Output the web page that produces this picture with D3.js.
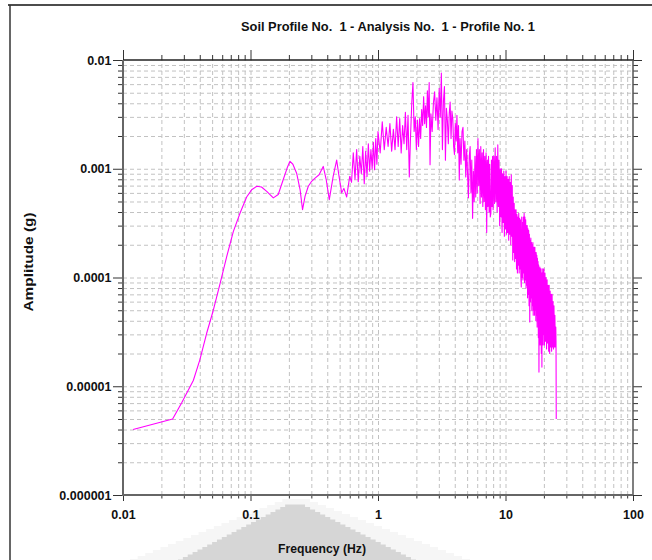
<!DOCTYPE html>
<html>
<head>
<meta charset="utf-8">
<script src="https://cdn.jsdelivr.net/npm/d3@7"></script>
<style>
  body { margin: 0; background: #fff; }
  svg { display: block; }
</style>
</head>
<body>
<div id="chart"></div>
<script>
// smooth low-frequency part [Hz, g]
const spectrumLow = [
  [0.012, 4.0e-6], [0.0245, 5.0e-6], [0.0288, 7.0e-6], [0.0356, 1.13e-5], [0.040, 1.74e-5],
  [0.0453, 3.07e-5], [0.0511, 5.0e-5], [0.0577, 8.8e-5], [0.065, 1.55e-4], [0.0733, 2.64e-4],
  [0.0827, 3.9e-4], [0.0933, 5.5e-4], [0.102, 6.4e-4], [0.112, 6.9e-4], [0.122, 6.8e-4],
  [0.134, 6.2e-4], [0.151, 5.4e-4], [0.165, 5.8e-4], [0.181, 8.0e-4], [0.194, 1.02e-3],
  [0.204, 1.17e-3], [0.215, 1.1e-3], [0.230, 9.1e-4], [0.245, 6.4e-4], [0.256, 4.2e-4],
  [0.268, 5.6e-4], [0.284, 6.9e-4], [0.300, 7.6e-4], [0.321, 8.2e-4], [0.345, 8.8e-4],
  [0.372, 1.05e-3], [0.392, 8.0e-4], [0.415, 5.2e-4], [0.445, 8.5e-4], [0.474, 1.2e-3],
  [0.495, 8.5e-4], [0.519, 6.0e-4], [0.54, 6.6e-4], [0.568, 5.5e-4], [0.60, 8.5e-4]
];

// noisy middle part
const spectrumMid = [
  [0.62, 7.5e-4], [0.64, 1.4e-3], [0.66, 8.0e-4], [0.68, 1.5e-3], [0.70, 7.6e-4], [0.72, 1.3e-3],
  [0.74, 9.0e-4], [0.76, 1.6e-3], [0.78, 7.3e-4], [0.80, 1.45e-3], [0.82, 8.5e-4], [0.84, 1.7e-3],
  [0.86, 9.5e-4], [0.88, 1.5e-3], [0.90, 1.0e-3], [0.92, 1.75e-3], [0.94, 9.8e-4], [0.96, 1.9e-3],
  [0.98, 1.1e-3], [1.00, 2.2e-3], [1.04, 1.4e-3], [1.08, 2.7e-3], [1.12, 1.5e-3], [1.16, 2.4e-3],
  [1.20, 1.6e-3], [1.24, 2.6e-3], [1.28, 1.45e-3], [1.32, 2.3e-3], [1.36, 1.5e-3], [1.40, 3.0e-3],
  [1.44, 1.6e-3], [1.48, 2.9e-3], [1.52, 1.4e-3], [1.56, 2.5e-3], [1.60, 1.7e-3], [1.64, 3.3e-3],
  [1.68, 1.5e-3], [1.72, 3.1e-3], [1.76, 8.4e-4], [1.80, 2.0e-3], [1.84, 4.0e-3], [1.88, 6.2e-3],
  [1.92, 2.2e-3], [1.96, 3.0e-3], [2.00, 1.5e-3], [2.04, 2.8e-3], [2.08, 1.6e-3], [2.12, 2.9e-3],
  [2.16, 1.9e-3], [2.20, 3.5e-3], [2.24, 2.5e-3], [2.28, 4.6e-3], [2.32, 2.6e-3], [2.36, 3.8e-3],
  [2.40, 2.4e-3], [2.44, 5.2e-3], [2.48, 3.0e-3], [2.52, 6.2e-3], [2.56, 1.09e-3], [2.60, 3.2e-3],
  [2.66, 2.2e-3], [2.72, 4.0e-3], [2.78, 5.1e-3], [2.84, 2.8e-3], [2.90, 4.5e-3], [2.96, 2.3e-3],
  [3.02, 5.5e-3], [3.08, 3.0e-3], [3.14, 7.6e-3], [3.20, 1.5e-3], [3.26, 4.2e-3], [3.32, 5.7e-3],
  [3.38, 1.2e-3], [3.44, 3.6e-3], [3.50, 2.8e-3], [3.56, 1.7e-3], [3.62, 3.2e-3], [3.68, 4.1e-3],
  [3.74, 1.9e-3], [3.80, 3.4e-3], [3.86, 2.9e-3], [3.92, 1.6e-3], [3.98, 1.35e-3], [4.04, 2.6e-3],
  [4.10, 1.8e-3], [4.16, 3.1e-3], [4.22, 1.4e-3], [4.28, 2.5e-3], [4.34, 7.9e-4], [4.40, 1.9e-3],
  [4.48, 1.1e-3], [4.56, 2.2e-3], [4.64, 2.4e-3], [4.72, 1.2e-3], [4.80, 1.8e-3], [4.88, 8.4e-4],
  [4.96, 1.5e-3]
];

// dense high-frequency part
const spectrumHigh = [
  [5.04, 9.0e-4], [5.12, 5.4e-4], [5.20, 1.3e-3], [5.28, 1.6e-3], [5.36, 6.0e-4], [5.44, 1.2e-3],
  [5.52, 3.5e-4], [5.60, 9.5e-4], [5.68, 5.0e-4], [5.76, 1.3e-3], [5.84, 5.5e-4], [5.92, 1.5e-3],
  [6.00, 6.0e-4], [6.08, 1.9e-3], [6.16, 7.0e-4], [6.24, 1.5e-3], [6.32, 4.8e-4], [6.40, 1.6e-3],
  [6.48, 5.5e-4], [6.56, 1.4e-3], [6.64, 4.5e-4], [6.72, 1.5e-3], [6.80, 5.0e-4], [6.88, 1.3e-3],
  [6.96, 4.2e-4], [7.04, 1.4e-3], [7.12, 2.6e-4], [7.20, 1.2e-3], [7.28, 4.5e-4], [7.36, 1.3e-3],
  [7.44, 4.0e-4], [7.52, 1.1e-3], [7.60, 3.6e-4], [7.68, 3.9e-4], [7.76, 1.2e-3], [7.84, 4.5e-4],
  [7.92, 1.3e-3], [8.00, 4.2e-4], [8.10, 1.3e-3], [8.20, 4.8e-4], [8.30, 1.56e-3], [8.40, 5.0e-4],
  [8.50, 1.3e-3], [8.60, 4.0e-4], [8.70, 1.66e-3], [8.80, 4.5e-4], [8.90, 1.2e-3], [9.00, 3.0e-4],
  [9.10, 1.0e-3], [9.20, 3.6e-4], [9.30, 1.0e-3], [9.40, 2.6e-4], [9.50, 9.0e-4], [9.60, 3.2e-4],
  [9.70, 9.5e-4], [9.80, 2.4e-4], [9.90, 8.5e-4], [10.0, 2.8e-4], [10.1, 9.5e-4], [10.2, 2.5e-4],
  [10.3, 8.5e-4], [10.4, 2.6e-4], [10.5, 8.0e-4], [10.6, 2.2e-4], [10.7, 8.5e-4], [10.8, 2.5e-4],
  [10.9, 7.5e-4], [11.0, 2.0e-4], [11.1, 8.8e-4], [11.2, 2.4e-4], [11.3, 7.0e-4], [11.4, 1.45e-4],
  [11.5, 5.5e-4], [11.6, 1.7e-4], [11.7, 4.8e-4], [11.8, 1.4e-4], [11.9, 4.2e-4], [12.0, 1.5e-4],
  [12.1, 4.2e-4], [12.2, 1.2e-4], [12.3, 3.8e-4], [12.4, 1.1e-4], [12.5, 3.6e-4], [12.6, 1.3e-4],
  [12.7, 3.9e-4], [12.8, 1.1e-4], [12.9, 3.5e-4], [13.0, 1.2e-4], [13.1, 3.4e-4], [13.2, 1.0e-4],
  [13.3, 8.2e-5], [13.4, 3.6e-4], [13.5, 1.0e-4], [13.6, 3.2e-4], [13.7, 9.5e-5], [13.8, 3.6e-4],
  [13.9, 1.1e-4], [14.0, 3.9e-4], [14.1, 9.0e-5], [14.2, 3.6e-4], [14.3, 9.5e-5], [14.4, 3.4e-4],
  [14.5, 8.0e-5], [14.6, 3.0e-4], [14.7, 8.5e-5], [14.8, 3.0e-4], [14.9, 6.5e-5], [15.0, 2.8e-4],
  [15.1, 7.0e-5], [15.2, 2.7e-4], [15.3, 5.5e-5], [15.4, 2.5e-4], [15.5, 3.9e-5], [15.6, 2.2e-4],
  [15.7, 6.0e-5], [15.8, 2.3e-4], [15.9, 6.5e-5], [16.0, 2.1e-4], [16.1, 5.0e-5], [16.2, 2.0e-4],
  [16.3, 5.5e-5], [16.4, 2.1e-4], [16.5, 4.5e-5], [16.6, 1.9e-4], [16.7, 5.0e-5], [16.8, 1.9e-4],
  [16.9, 4.5e-5], [17.0, 1.9e-4], [17.1, 5.0e-5], [17.2, 1.7e-4], [17.3, 4.0e-5], [17.4, 1.7e-4],
  [17.5, 4.5e-5], [17.6, 1.6e-4], [17.7, 3.5e-5], [17.8, 1.5e-4], [17.9, 4.0e-5], [18.0, 1.4e-4],
  [18.1, 2.8e-5], [18.2, 1.3e-4], [18.3, 1.35e-5], [18.4, 1.2e-4], [18.5, 3.0e-5], [18.6, 1.25e-4],
  [18.7, 2.4e-5], [18.8, 1.2e-4], [18.9, 3.2e-5], [19.0, 1.2e-4], [19.1, 2.0e-5], [19.2, 1.1e-4],
  [19.3, 1.5e-5], [19.4, 1.1e-4], [19.5, 2.6e-5], [19.6, 1.2e-4], [19.7, 2.4e-5], [19.8, 1.1e-4],
  [19.9, 3.0e-5], [20.0, 1.2e-4], [20.2, 2.4e-5], [20.4, 1.1e-4], [20.6, 2.6e-5], [20.8, 1.0e-4],
  [21.0, 2.2e-5], [21.2, 9.5e-5], [21.4, 2.5e-5], [21.6, 8.5e-5], [21.8, 2.1e-5], [22.0, 8.5e-5],
  [22.2, 2.0e-5], [22.4, 7.5e-5], [22.6, 2.3e-5], [22.8, 7.0e-5], [23.0, 2.1e-5], [23.2, 7.0e-5],
  [23.4, 2.3e-5], [23.6, 6.0e-5], [23.8, 2.2e-5], [24.0, 5.5e-5], [24.2, 2.3e-5], [24.4, 4.5e-5],
  [24.6, 2.3e-5], [24.8, 3.5e-5], [24.9, 2.6e-5], [25.0, 5.0e-6]
];

const xMajor = [0.01, 0.1, 1, 10, 100];
const xLabels = ["0.01", "0.1", "1", "10", "100"];
const yMajor = [1e-6, 1e-5, 1e-4, 1e-3, 1e-2];
const yLabels = ["0.000001", "0.00001", "0.0001", "0.001", "0.01"];

const titleText = "Soil Profile No.  1 - Analysis No.  1 - Profile No. 1";
const xTitle = "Frequency (Hz)";
const yTitle = "Amplitude (g)";

const width = 652, height = 560;
const plot = { left: 123, right: 633, top: 60, bottom: 495 };
const font = "'Liberation Sans', Arial, sans-serif";

const svg = d3.select("#chart").append("svg")
  .attr("width", width)
  .attr("height", height);

// grey watermark behind the x title
function stepped(x0, x1, peakL, peakR, yTop, yBot, step) {
  const n = Math.round((yBot - yTop) / step);
  const pts = [];
  for (let i = 0; i < n; i++) {
    const yy = yBot - i * step, xl = x0 + (peakL - x0) * i / n;
    pts.push([xl, yy], [xl, yy - step]);
  }
  for (let i = n - 1; i >= 0; i--) {
    const yy = yBot - i * step, xr = x1 - (x1 - peakR) * i / n;
    pts.push([xr, yy - step], [xr, yy]);
  }
  return pts;
}
svg.append("polygon")
  .attr("points", stepped(130, 470, 290, 302, 499, 562, 3).join(" "))
  .attr("fill", "#f6f6f6");
svg.append("polygon")
  .attr("points", stepped(178, 416, 290, 300, 505, 562, 2.5).join(" "))
  .attr("fill", "#d6d6d6");

// outer frame
svg.append("line").attr("x1", 8).attr("x2", width).attr("y1", 5).attr("y2", 5)
  .attr("stroke", "#111").attr("stroke-width", 1.5);
svg.append("line").attr("x1", 10).attr("x2", 10).attr("y1", 5).attr("y2", height)
  .attr("stroke", "#333").attr("stroke-width", 1.5);

const x = d3.scaleLog().domain([0.01, 100]).range([plot.left, plot.right]);
const y = d3.scaleLog().domain([1e-6, 1e-2]).range([plot.bottom, plot.top]);

const xMinor = d3.range(-2, 2).flatMap(e => d3.range(2, 10).map(k => +(k * 10 ** e).toPrecision(3)));
const yMinor = d3.range(-6, -2).flatMap(e => d3.range(2, 10).map(k => +(k * 10 ** e).toPrecision(3)));

const pw = plot.right - plot.left, ph = plot.bottom - plot.top;

// dashed grid
function styleGrid(g) {
  g.select(".domain").remove();
  g.selectAll("text").remove();
  g.selectAll("line")
    .attr("stroke", "#c2c2c2")
    .attr("stroke-width", 1)
    .attr("stroke-dasharray", "4,3");
}
svg.append("g")
  .attr("transform", `translate(0,${plot.bottom})`)
  .call(d3.axisBottom(x).tickValues(xMinor.concat(xMajor.slice(1, -1))).tickSize(-ph).tickFormat(""))
  .call(styleGrid);
svg.append("g")
  .attr("transform", `translate(${plot.left},0)`)
  .call(d3.axisLeft(y).tickValues(yMinor.concat(yMajor.slice(1, -1))).tickSize(-pw).tickFormat(""))
  .call(styleGrid);

// spectrum
const line = d3.line().x(d => x(d[0])).y(d => y(d[1]));
svg.append("path")
  .datum(spectrumLow.concat(spectrumMid, spectrumHigh))
  .attr("d", line)
  .attr("fill", "none")
  .attr("stroke", "#ff00ff")
  .attr("stroke-width", 1.1)
  .attr("stroke-linejoin", "round");

// ticks
function styleTicks(g) {
  g.select(".domain").remove();
  g.selectAll("line").attr("stroke", "#333").attr("stroke-width", 1);
}
function tickAxis(axis, values, size, pos) {
  svg.append("g")
    .attr("transform", pos)
    .call(axis.tickValues(values).tickSize(size).tickFormat(""))
    .call(styleTicks);
}
tickAxis(d3.axisLeft(y), yMinor, 5, `translate(${plot.left},0)`);
tickAxis(d3.axisRight(y), yMinor, 5, `translate(${plot.right},0)`);
tickAxis(d3.axisRight(y), yMajor, 9, `translate(${plot.right},0)`);
tickAxis(d3.axisTop(x), xMinor, 5, `translate(0,${plot.top})`);
tickAxis(d3.axisTop(x), xMajor, 10, `translate(0,${plot.top})`);
tickAxis(d3.axisBottom(x), xMinor, 3.5, `translate(0,${plot.bottom})`);

svg.append("g")
  .attr("transform", `translate(${plot.left},0)`)
  .call(d3.axisLeft(y).tickValues(yMajor).tickSize(10).tickPadding(1.5)
    .tickFormat((d, i) => yLabels[i]))
  .call(styleTicks);
svg.append("g")
  .attr("transform", `translate(0,${plot.bottom})`)
  .call(d3.axisBottom(x).tickValues(xMajor).tickSize(6).tickPadding(9)
    .tickFormat((d, i) => xLabels[i]))
  .call(styleTicks);
svg.selectAll(".tick text")
  .attr("fill", "#111")
  .style("font-family", font)
  .style("font-size", "12.5px")
  .style("font-weight", "bold");

// plot frame
svg.append("line").attr("x1", plot.left).attr("x2", plot.right).attr("y1", plot.top).attr("y2", plot.top)
  .attr("stroke", "#222").attr("stroke-width", 1.3);
svg.append("line").attr("x1", plot.right).attr("x2", plot.right).attr("y1", plot.top).attr("y2", plot.bottom)
  .attr("stroke", "#555").attr("stroke-width", 1.5);
svg.append("line").attr("x1", plot.left).attr("x2", plot.left).attr("y1", plot.top).attr("y2", plot.bottom + 1)
  .attr("stroke", "#666").attr("stroke-width", 2);
svg.append("line").attr("x1", plot.left - 1).attr("x2", plot.right).attr("y1", plot.bottom).attr("y2", plot.bottom)
  .attr("stroke", "#666").attr("stroke-width", 2);

// titles
svg.append("text")
  .attr("x", 388).attr("y", 31)
  .attr("text-anchor", "middle")
  .attr("textLength", 294).attr("lengthAdjust", "spacingAndGlyphs")
  .style("white-space", "pre")
  .style("font-family", "'Liberation Sans Narrow', 'Arial Narrow', " + font)
  .style("font-size", "13px").style("font-weight", "bold")
  .attr("fill", "#111")
  .text(titleText);

svg.append("text")
  .attr("x", 322).attr("y", 553)
  .attr("text-anchor", "middle")
  .attr("textLength", 88).attr("lengthAdjust", "spacingAndGlyphs")
  .style("font-family", font)
  .style("font-size", "12.5px").style("font-weight", "bold")
  .attr("fill", "#111")
  .text(xTitle);

svg.append("text")
  .attr("transform", "translate(33,262) rotate(-90)")
  .attr("text-anchor", "middle")
  .attr("textLength", 99).attr("lengthAdjust", "spacingAndGlyphs")
  .style("font-family", font)
  .style("font-size", "12.5px").style("font-weight", "bold")
  .attr("fill", "#111")
  .text(yTitle);
</script>
</body>
</html>
